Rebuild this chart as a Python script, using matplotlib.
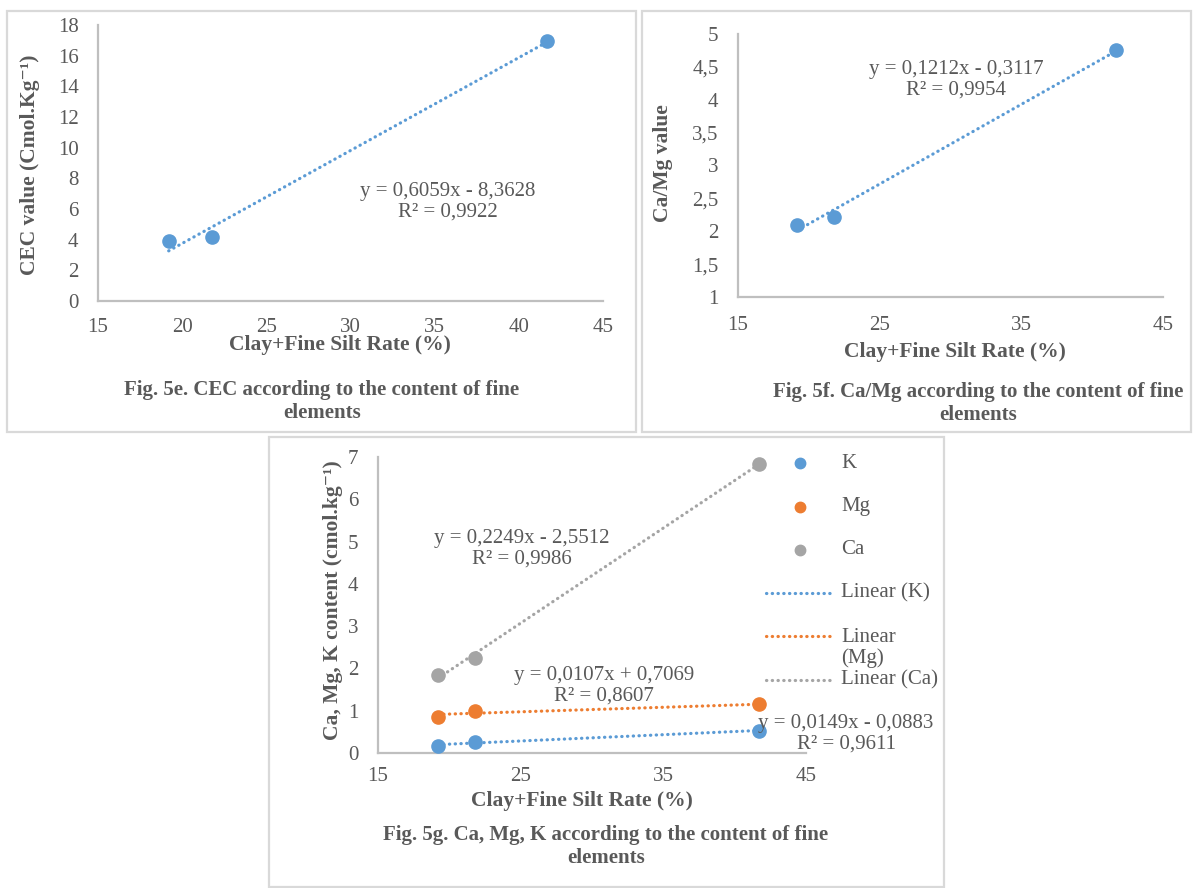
import numpy as np
import matplotlib
matplotlib.use('Agg')
import matplotlib.pyplot as plt
from matplotlib.patches import Rectangle
from matplotlib.lines import Line2D

plt.rcParams['font.family'] = ['Liberation Serif', 'DejaVu Serif']

# data
clay_silt = [19.2, 21.8, 41.7]
cec = [3.9, 4.15, 16.95]
ca_mg = [2.1, 2.22, 4.75]
k_content = [0.16, 0.27, 0.53]
mg_content = [0.86, 0.99, 1.15]
ca_content = [1.85, 2.25, 6.83]

# trendline coefficients as printed on the charts (slope, intercept, R2)
fit_cec = (0.6059, -8.3628, 0.9922)
fit_camg = (0.1212, -0.3117, 0.9954)
fit_k = (0.0149, -0.0883, 0.9611)
fit_mg = (0.0107, 0.7069, 0.8607)
fit_ca = (0.2249, -2.5512, 0.9986)

BLUE = '#5B9BD5'
ORANGE = '#ED7D31'
GREY = '#A5A5A5'
TXT = '#595959'
AXC = '#BFBFBF'

W, H = 1193, 888
fig = plt.figure(figsize=(W / 100, H / 100), dpi=100)


def fx(x):
    return x / W


def fy(y):
    return 1 - y / H


def frame(l, t, r, b):
    fig.add_artist(Rectangle((fx(l), fy(b)), fx(r - l), (b - t) / H,
                             transform=fig.transFigure, fill=False,
                             edgecolor='#D9D9D9', linewidth=1.6))


def make_ax(l, t, r, b):
    ax = fig.add_axes([fx(l), fy(b), fx(r - l), (b - t) / H])
    for s in ['top', 'right']:
        ax.spines[s].set_visible(False)
    for s in ['left', 'bottom']:
        ax.spines[s].set_color(AXC)
        ax.spines[s].set_linewidth(1.6)
    ax.tick_params(length=0, labelsize=15, colors=TXT)
    ax.tick_params(axis='y', pad=14)
    ax.tick_params(axis='x', pad=12)
    ax.patch.set_visible(False)
    return ax


def trend(ax, fit, color):
    xs = np.array([min(clay_silt), max(clay_silt)])
    ax.plot(xs, fit[0] * xs + fit[1], color=color, linewidth=2.3,
            linestyle=(0, (0.1, 1.7)), dash_capstyle='round', zorder=2,
            clip_on=False)


def eq_text(fit):
    a = f'{abs(fit[0]):.4f}'.replace('.', ',')
    b = f'{abs(fit[1]):.4f}'.replace('.', ',')
    sign = '-' if fit[1] < 0 else '+'
    r2 = f'{fit[2]:.4f}'.replace('.', ',')
    return f'y = {a}x {sign} {b}\nR² = {r2}'


def comma(v, pos):
    return f'{v:g}'.replace('.', ',')


def label(x, y, s, **kw):
    opts = dict(ha='center', va='center', color=TXT)
    opts.update(kw)
    fig.text(fx(x), fy(y), s, **opts)


# ---------- Fig 5e ----------
frame(7, 11, 636, 432)
ax1 = make_ax(98, 25, 603, 301)
trend(ax1, fit_cec, BLUE)
ax1.plot(clay_silt, cec, 'o', color=BLUE, markersize=9.5, zorder=3, clip_on=False)
ax1.set_xlim(15, 45)
ax1.set_ylim(0, 18)
ax1.set_xticks(range(15, 46, 5))
ax1.set_yticks(range(0, 19, 2))
label(448, 202, eq_text(fit_cec), fontsize=15, linespacing=1.1)
label(30, 165, 'CEC value (Cmol.Kg⁻¹)', rotation=90, fontsize=15.5, fontweight='bold')
label(340, 345, 'Clay+Fine Silt Rate (%)', fontsize=15.5, fontweight='bold')
label(322, 402, 'Fig. 5e. CEC according to the content of fine\nelements',
      fontsize=15, fontweight='bold', linespacing=1.2)

# ---------- Fig 5f ----------
frame(642, 11, 1191, 432)
ax2 = make_ax(738, 34, 1163, 297)
trend(ax2, fit_camg, BLUE)
ax2.plot(clay_silt, ca_mg, 'o', color=BLUE, markersize=9.5, zorder=3, clip_on=False)
ax2.set_xlim(15, 45)
ax2.set_ylim(1, 5)
ax2.set_xticks([15, 25, 35, 45])
ax2.set_yticks(np.arange(1, 5.01, 0.5))
ax2.yaxis.set_major_formatter(matplotlib.ticker.FuncFormatter(comma))
ax2.tick_params(axis='x', pad=14)
label(956, 80, eq_text(fit_camg), fontsize=15, linespacing=1.1)
label(663, 163, 'Ca/Mg value', rotation=90, fontsize=15.5, fontweight='bold')
label(955, 352, 'Clay+Fine Silt Rate (%)', fontsize=15.5, fontweight='bold')
label(978, 403, 'Fig. 5f. Ca/Mg according to the content of fine\nelements',
      fontsize=15, fontweight='bold', linespacing=1.2)

# ---------- Fig 5g ----------
frame(269, 437, 944, 887)
ax3 = make_ax(378, 457, 806, 753)
for vals, fit, col in [(k_content, fit_k, BLUE), (mg_content, fit_mg, ORANGE),
                       (ca_content, fit_ca, GREY)]:
    trend(ax3, fit, col)
    ax3.plot(clay_silt, vals, 'o', color=col, markersize=9.5, zorder=3, clip_on=False)
ax3.set_xlim(15, 45)
ax3.set_ylim(0, 7)
ax3.set_xticks([15, 25, 35, 45])
ax3.set_yticks(range(0, 8))
ax3.tick_params(axis='x', pad=10)
label(522, 549, eq_text(fit_ca), fontsize=15, linespacing=1.1)
label(604, 686, eq_text(fit_mg), fontsize=15, linespacing=1.1)
label(846, 734, eq_text(fit_k), fontsize=15, linespacing=1.1)
label(333, 600, 'Ca, Mg, K content (cmol.kg⁻¹)', rotation=90, fontsize=15.5,
      fontweight='bold')
label(582, 801, 'Clay+Fine Silt Rate (%)', fontsize=15.5, fontweight='bold')
label(606, 846, 'Fig. 5g. Ca, Mg, K according to the content of fine\nelements',
      fontsize=15, fontweight='bold', linespacing=1.2)

# legend drawn by hand to keep Excel's overlapping wrapped label
leg_items = [('K', BLUE, 'marker', 463), ('Mg', ORANGE, 'marker', 507),
             ('Ca', GREY, 'marker', 550), ('Linear (K)', BLUE, 'line', 593),
             ('Linear\n(Mg)', ORANGE, 'line', 636), ('Linear (Ca)', GREY, 'line', 680)]
for text, col, kind, ypix in leg_items:
    if kind == 'marker':
        fig.add_artist(Line2D([fx(800)], [fy(ypix)], transform=fig.transFigure,
                              marker='o', markersize=7.5, color=col, linestyle='none'))
    else:
        fig.add_artist(Line2D([fx(766), fx(831)], [fy(ypix), fy(ypix)],
                              transform=fig.transFigure, color=col, linewidth=2.3,
                              linestyle=(0, (0.1, 1.7)), dash_capstyle='round'))
    if '\n' in text:
        label(841, ypix - 8, text, ha='left', va='top', fontsize=15, linespacing=1.1)
    else:
        label(841, ypix, text, ha='left', fontsize=15)

fig.savefig('out.png', dpi=100)
